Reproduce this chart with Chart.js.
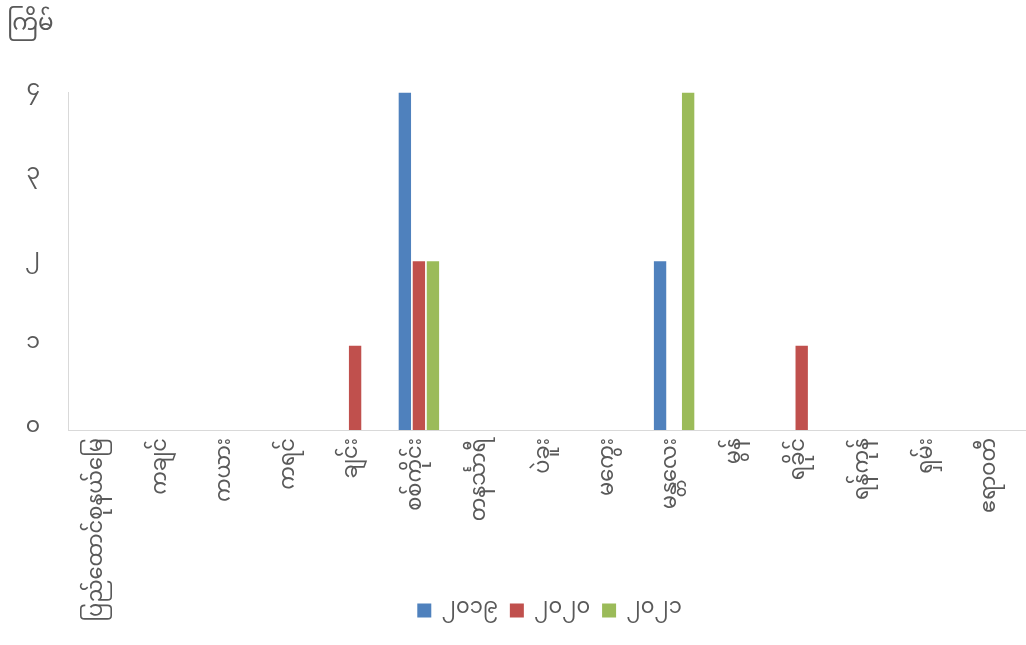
<!DOCTYPE html>
<html>
<head>
<meta charset="utf-8">
<script src="https://cdn.jsdelivr.net/npm/chart.js@4/dist/chart.umd.min.js"></script>
<style>
    html, body { margin: 0; padding: 0; background: #fff; }
    #wrap { width: 1026px; height: 645px; }
</style>
</head>
<body>
<div id="wrap"><canvas id="chart"></canvas></div>
<script>
// Data
const regions = ['ပြည်ထောင်စုနယ်မြေ', 'ကချင်', 'ကယား', 'ကရင်', 'ချင်း', 'စစ်ကိုင်း', 'တနင်္သာရီ',
    'ပဲခူး', 'မကွေး', 'မန္တလေး', 'မွန်', 'ရခိုင်', 'ရန်ကုန်', 'ရှမ်း', 'ဧရာဝတီ'];
const years = ['၂၀၁၉', '၂၀၂၀', '၂၀၂၁'];
const values2019 = [0, 0, 0, 0, 0, 4, 0, 0, 0, 2, 0, 0, 0, 0, 0];
const values2020 = [0, 0, 0, 0, 1, 2, 0, 0, 0, 0, 0, 1, 0, 0, 0];
const values2021 = [0, 0, 0, 0, 0, 2, 0, 0, 0, 4, 0, 0, 0, 0, 0];
const yTickLabels = ['၀', '၁', '၂', '၃', '၄'];
const titleText = 'ကြိမ်';

const fontFamily = "'Noto Sans Myanmar', 'Noto Sans', sans-serif";
const textColor = '#595959';

// long category labels run past the axis box into the legend row,
// so let the x axis labels draw down to the canvas bottom.
// legend is centred under the plot area rather than the whole canvas
const layoutTweaks = {
    id: 'layoutTweaks',
    afterLayout(chart) {
        chart.scales.x.bottom = chart.height;
        const shift = ((chart.chartArea.left + chart.chartArea.right) - chart.width) / 2;
        chart.legend.left += shift;
        chart.legend.right += shift;
    }
};

document.addEventListener('DOMContentLoaded', function() {
    const ctx = document.getElementById('chart').getContext('2d');
    new Chart(ctx, {
        type: 'bar',
        data: {
            labels: regions,
            datasets: [
                { label: years[0], data: values2019, backgroundColor: '#4F81BD' },
                { label: years[1], data: values2020, backgroundColor: '#C0504D' },
                { label: years[2], data: values2021, backgroundColor: '#9BBB59' }
            ]
        },
        plugins: [layoutTweaks],
        options: {
            responsive: true,
            maintainAspectRatio: false,
            animation: false,
            datasets: { bar: { categoryPercentage: 0.66, barPercentage: 0.88 } },
            layout: { padding: { left: 7, right: 1, top: 0, bottom: 14 } },
            plugins: {
                title: {
                    display: true,
                    text: titleText,
                    align: 'start',
                    color: textColor,
                    font: { family: fontFamily, size: 23, weight: 'normal' },
                    padding: { top: 14, bottom: 51 }
                },
                legend: {
                    position: 'bottom',
                    labels: {
                        color: textColor,
                        font: { family: fontFamily, size: 21 },
                        boxWidth: 14,
                        boxHeight: 14,
                        padding: 12
                    }
                },
                tooltip: { enabled: false }
            },
            scales: {
                x: {
                    grid: { display: false },
                    border: { display: true, color: '#d9d9d9' },
                    ticks: {
                        color: textColor,
                        font: { family: fontFamily, size: 21 },
                        minRotation: 90,
                        maxRotation: 90,
                        autoSkip: false,
                        padding: 0
                    },
                    afterFit: function(scale) { scale.height = 158; }
                },
                y: {
                    min: 0,
                    max: 4,
                    grid: { display: false },
                    border: { display: true, color: '#d9d9d9' },
                    ticks: {
                        stepSize: 1,
                        color: textColor,
                        font: { family: fontFamily, size: 22 },
                        padding: 20,
                        callback: function(value) { return yTickLabels[value]; }
                    },
                    afterFit: function(scale) { scale.width = 61; }
                }
            }
        }
    });
});
</script>
</body>
</html>
